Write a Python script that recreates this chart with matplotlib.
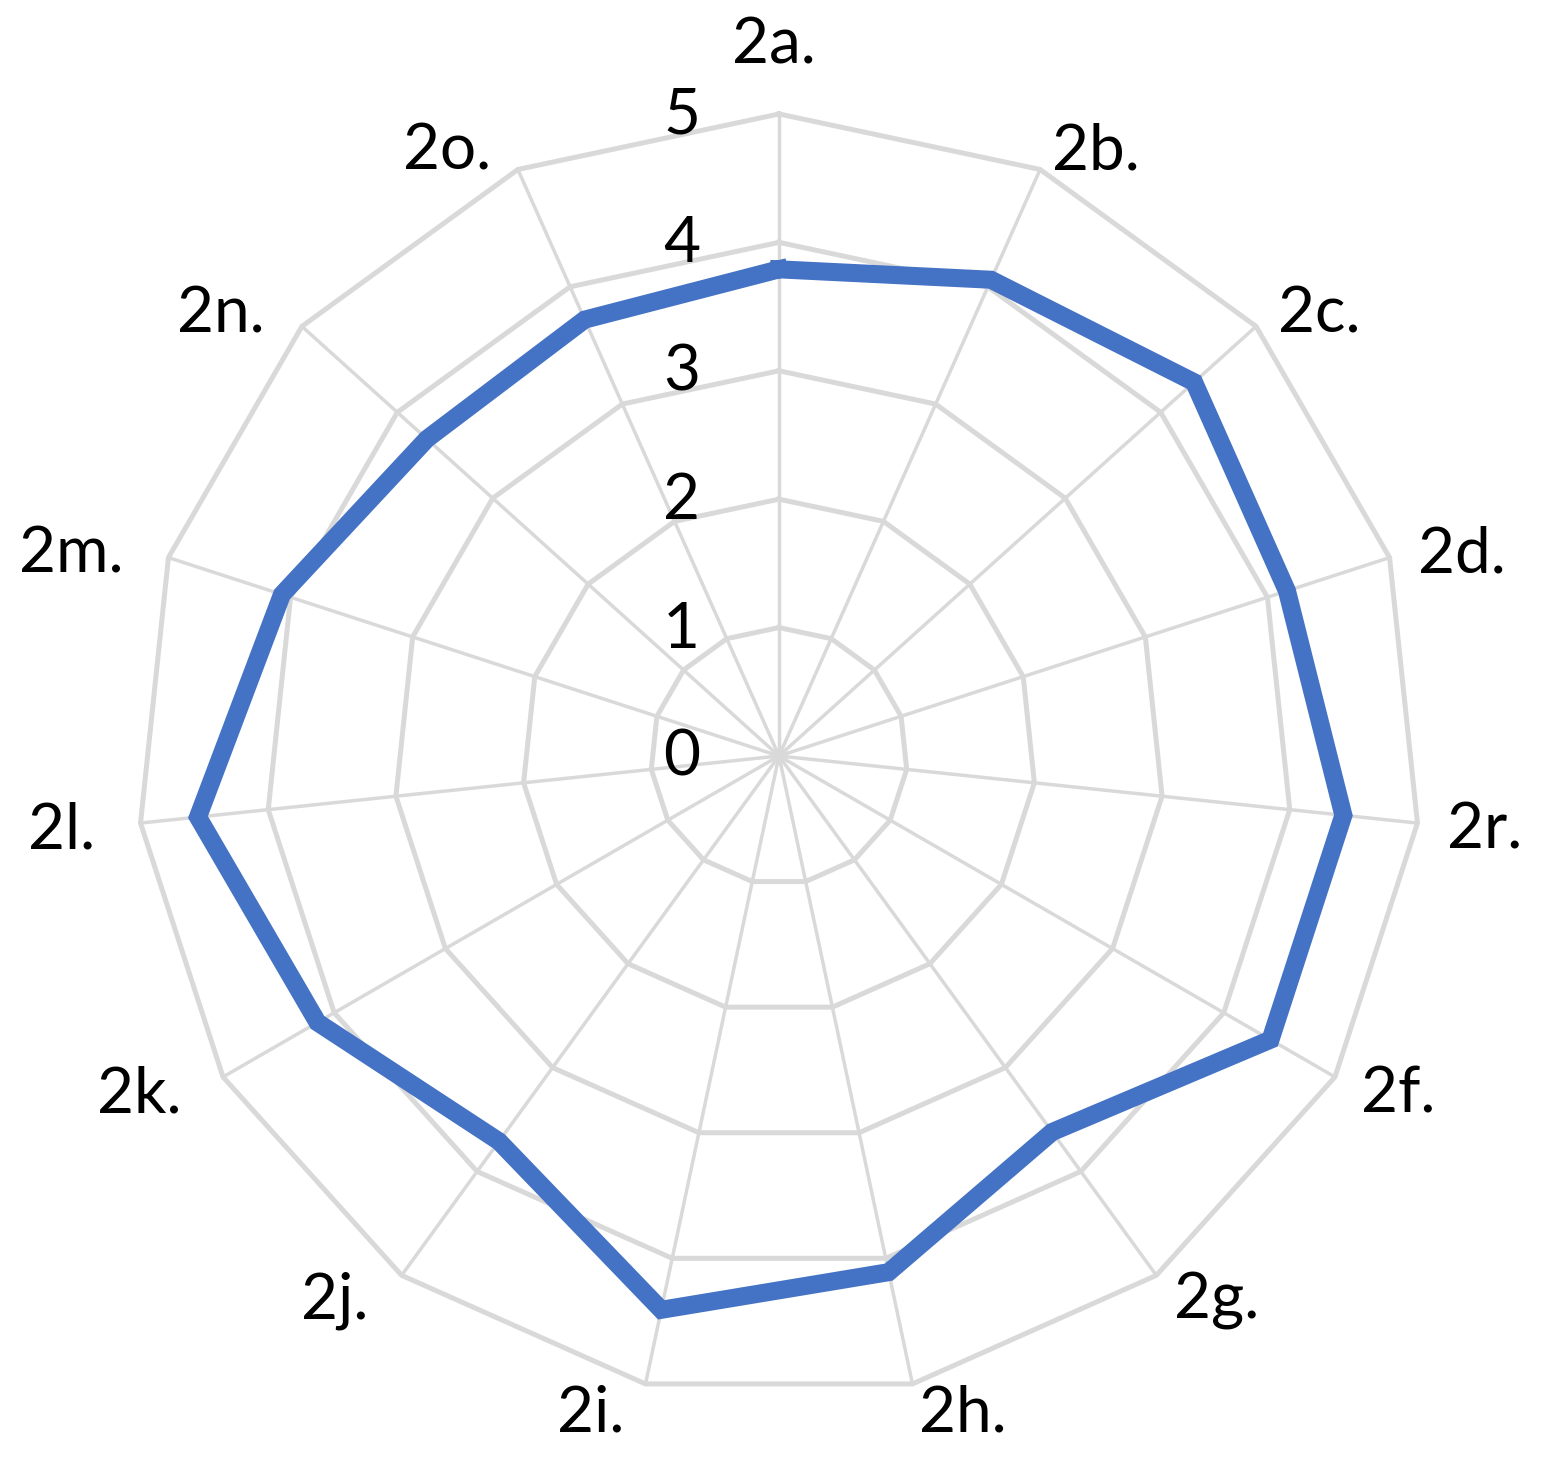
import numpy as np
import matplotlib
matplotlib.use("Agg")
import matplotlib.pyplot as plt

# categories clockwise from the top
categories = ["2a.", "2b.", "2c.", "2d.", "2r.", "2f.", "2g.", "2h.",
              "2i.", "2j.", "2k.", "2l.", "2m.", "2n.", "2o."]
scores = [3.79, 4.06, 4.35, 4.16, 4.42, 4.42, 3.62, 4.11,
          4.41, 3.71, 4.15, 4.55, 4.07, 3.69, 3.72]
rings = [0, 1, 2, 3, 4, 5]

plt.rcParams['font.family'] = ['Lato', 'DejaVu Sans']

grid_col = "#d9d9d9"
line_col = "#4472C4"

n = len(categories)
angles = np.arange(n) * 2 * np.pi / n
closed = np.append(angles, angles[0])

fig = plt.figure(figsize=(15.49, 14.57), dpi=100)
ax = fig.add_axes([0.08845, 0.0405, 0.8289, 0.8813], projection="polar")
ax.set_theta_zero_location("N")
ax.set_theta_direction(-1)
ax.set_ylim(0, 5)
ax.grid(False)
ax.set_xticks([])
ax.set_yticks([])
ax.spines["polar"].set_visible(False)
ax.patch.set_alpha(0)

# polygon rings
for v in rings[1:]:
    ax.plot(closed, [v] * len(closed), color=grid_col, lw=3.6, zorder=1,
            solid_joinstyle="miter", clip_on=False)
# spokes
for a in angles:
    ax.plot([a, a], [0, 5], color=grid_col, lw=2.5, zorder=1, clip_on=False)

# data series
vals = scores + scores[:1]
ax.plot(closed, vals, color=line_col, lw=13, zorder=3,
        solid_joinstyle="miter", clip_on=False)

# radial value labels
for v in rings:
    ax.annotate(str(v), xy=(0, v), xytext=(-79, -2), textcoords="offset pixels",
                ha="right", va="center", fontsize=46, color="black",
                annotation_clip=False)

# category labels, placed just outside the outer ring
for a, lab in zip(angles, categories):
    s, c = np.sin(a), np.cos(a)
    if abs(s) < 0.1:
        ha, dx, dy = "center", -5, 50
    elif s > 0:
        ha, dx, dy = "left", 30 * s, 25 * c - 23
    else:
        ha, dx, dy = "right", 32 * s - 14, 25 * c - 23
    ax.annotate(lab, xy=(a, 5), xytext=(dx, dy), textcoords="offset pixels",
                ha=ha, va="baseline", fontsize=46, color="black",
                annotation_clip=False)

fig.savefig("out.png", dpi=100)
